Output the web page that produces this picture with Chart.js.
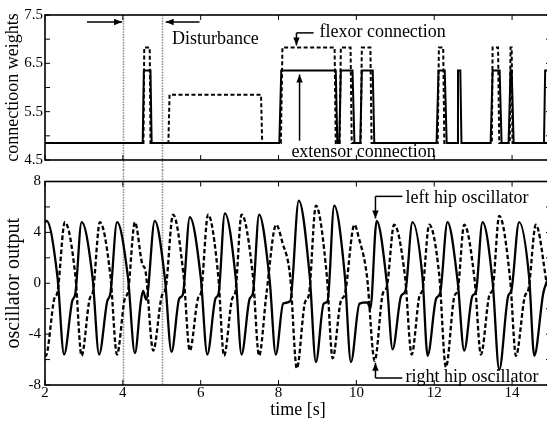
<!DOCTYPE html>
<html><head><meta charset="utf-8">
<script src="https://cdn.jsdelivr.net/npm/chart.js@4.4.1/dist/chart.umd.min.js"></script>
<style>
html,body{margin:0;padding:0;background:#fff;overflow:hidden;width:547px;height:421px;}
#top{position:absolute;left:0;top:0;width:560px;height:170px;}
#bot{position:absolute;left:0;top:170px;width:560px;height:251px;}
</style></head><body>
<div id="top"><canvas id="c1"></canvas></div>
<div id="bot"><canvas id="c2"></canvas></div>
<script>
// ---------- data: top panel (connection weights) ----------
const extT = [2,4.51,4.54,4.71,4.74,8.02,8.07,9.47,9.51,9.56,9.60,9.90,9.95,10.10,10.14,10.42,10.46,12.06,12.11,12.27,12.32,12.59,12.61,12.67,12.70,13.45,13.50,13.68,13.73,13.91,13.96,13.99,14.04,14.82,14.85,15];
const extW = [4.85,4.85,6.35,6.35,4.85,4.85,6.35,6.35,4.85,4.85,6.35,6.35,4.85,4.85,6.35,6.35,4.85,4.85,6.35,6.35,4.85,4.85,6.35,6.35,4.85,4.85,6.35,6.35,4.85,4.85,6.35,6.35,4.85,4.85,6.35,6.35];
const flxT = [2,4.53,4.55,4.69,4.71,5.17,5.20,7.55,7.58,8.06,8.10,9.44,9.47,9.57,9.60,9.85,9.88,10.11,10.14,10.36,10.39,12.09,12.12,12.23,12.26,13.48,13.50,13.64,13.67,13.94,13.96,13.99,14.01,15];
const flxW = [4.85,4.85,6.83,6.83,4.85,4.85,5.85,5.85,4.85,4.85,6.83,6.83,4.85,4.85,6.83,6.83,4.85,4.85,6.83,6.83,4.85,4.85,6.83,6.83,4.85,4.85,6.83,6.83,4.85,4.85,6.83,6.83,4.85,4.85];

// ---------- data: bottom panel (oscillator output) ----------
const leftT = [2.00,2.04,2.32,2.49,2.70,2.78,2.94,3.22,3.39,3.60,3.68,3.85,4.13,4.31,4.46,4.52,4.60,4.82,5.08,5.25,5.45,5.54,5.72,6.00,6.17,6.38,6.46,6.62,6.90,7.05,7.26,7.34,7.50,7.77,7.93,8.12,8.30,8.52,8.80,8.96,9.16,9.26,9.43,9.70,9.86,10.08,10.28,10.36,10.52,10.78,10.93,11.15,11.26,11.44,11.70,11.83,12.05,12.15,12.34,12.60,12.77,12.98,13.07,13.24,13.50,13.67,13.90,13.98,14.18,14.44,14.57,14.80,14.90];
const leftV = [4.8,4.9,0.5,-5.6,-1.4,-0.8,4.8,0.5,-5.6,-1.4,-0.8,4.8,0.5,-5.5,-1.5,-0.6,-1.3,4.9,0.4,-5.4,-1.2,-0.9,5.2,0.5,-5.6,-1.2,-0.8,5.5,0.4,-5.6,-1.2,-0.8,5.4,0.3,-5.6,-1.6,-1.4,6.5,0.6,-6.2,-1.6,-1.4,6.1,0.7,-6.2,-1.6,-1.5,-2.0,4.9,0.1,-5.2,-1.0,-0.6,4.8,0.4,-5.7,-1.2,-0.8,4.8,0.2,-5.3,-1.0,-0.7,4.8,0.1,-6.8,-1.0,-0.6,4.8,0.4,-5.7,-0.8,0.2];
const rightT = [2.00,2.02,2.24,2.32,2.51,2.78,2.94,3.15,3.23,3.41,3.68,3.85,4.05,4.13,4.31,4.50,4.58,4.78,5.00,5.10,5.29,5.56,5.72,5.93,6.01,6.19,6.45,6.60,6.81,6.89,7.05,7.34,7.50,7.69,7.94,8.10,8.30,8.47,8.68,8.78,8.96,9.24,9.39,9.60,9.70,9.95,10.06,10.27,10.47,10.68,10.78,10.97,11.25,11.42,11.62,11.70,11.87,12.13,12.30,12.52,12.60,12.77,13.04,13.20,13.42,13.50,13.67,13.95,14.10,14.33,14.42,14.61,14.90];
const rightV = [-5.6,-5.7,-1.2,-0.7,4.8,0.6,-5.7,-1.2,-0.7,4.8,0.6,-5.6,-1.2,-0.7,4.8,1.5,1.0,-5.3,-1.0,-0.4,5.4,0.6,-5.3,-1.2,-0.7,5.4,0.6,-5.7,-1.2,-0.7,5.4,0.6,-5.7,-0.8,4.6,3.2,0.5,-6.7,-1.5,-0.9,6.1,0.6,-5.9,-1.4,-0.9,4.6,3.6,0.6,-6.1,-0.8,-0.3,4.6,0.5,-5.6,-1.0,-0.5,4.6,0.6,-6.6,-1.0,-0.6,4.6,0.2,-5.6,-0.9,-0.5,5.3,0.3,-5.7,-1.0,-0.5,4.6,-0.2];

// ---------- tick values ----------
const timeRange = [2, 15];
const timeTickStep = 2;
const weightRange = [4.5, 7.5];
const weightTickStep = 0.5;
const outputRange = [-8, 8];
const outputTickStep = 2;
const disturbanceTimes = [4, 5];

const FONT = "'Liberation Serif','Times New Roman',serif";
const pts = (t, v) => t.map((x, i) => ({x, y: v[i]}));

function arrow(ctx, x1, y1, x2, y2, len = 8, w = 3.2) {
  ctx.beginPath(); ctx.moveTo(x1, y1); ctx.lineTo(x2, y2); ctx.stroke();
  const a = Math.atan2(y2 - y1, x2 - x1);
  ctx.beginPath();
  ctx.moveTo(x2, y2);
  ctx.lineTo(x2 - len * Math.cos(a) + w * Math.sin(a), y2 - len * Math.sin(a) - w * Math.cos(a));
  ctx.lineTo(x2 - len * Math.cos(a) - w * Math.sin(a), y2 - len * Math.sin(a) + w * Math.cos(a));
  ctx.closePath(); ctx.fill();
}

const framePlugin = {
  id: 'frame',
  afterDraw(chart) {
    const {ctx, chartArea: a, scales} = chart;
    ctx.save();
    ctx.strokeStyle = '#000';
    ctx.lineWidth = 1.6;
    ctx.strokeRect(a.left, a.top, a.right - a.left, a.bottom - a.top);
    ctx.lineWidth = 1;
    const L = 5;
    ctx.beginPath();
    scales.y.ticks.forEach(t => {
      const y = scales.y.getPixelForValue(t.value);
      ctx.moveTo(a.left, y); ctx.lineTo(a.left + L, y);
      ctx.moveTo(a.right, y); ctx.lineTo(a.right - L, y);
    });
    scales.x.ticks.forEach(t => {
      const x = scales.x.getPixelForValue(t.value);
      ctx.moveTo(x, a.top); ctx.lineTo(x, a.top + L);
      ctx.moveTo(x, a.bottom); ctx.lineTo(x, a.bottom - L);
    });
    ctx.stroke();
    ctx.restore();
  }
};

function disturbancePlugin(fromTop, toBottom) {
  return {
    id: 'disturb',
    beforeDatasetsDraw(chart) {
      const {ctx, chartArea: a, scales} = chart;
      ctx.save();
      ctx.strokeStyle = '#8c8c8c';
      ctx.lineWidth = 1.6;
      ctx.setLineDash([1.5, 1.2]);
      disturbanceTimes.forEach(t => {
        const x = Math.round(scales.x.getPixelForValue(t)) + 0.5;
        ctx.beginPath();
        ctx.moveTo(x, fromTop ? a.top : 0);
        ctx.lineTo(x, toBottom ? chart.height : a.bottom);
        ctx.stroke();
      });
      ctx.restore();
    }
  };
}

const topNotes = {
  id: 'topNotes',
  afterDraw(chart) {
    const {ctx, scales: {x, y}} = chart;
    const px = v => x.getPixelForValue(v), py = v => y.getPixelForValue(v);
    ctx.save();
    ctx.fillStyle = '#000'; ctx.strokeStyle = '#000'; ctx.lineWidth = 1.5;
    ctx.font = '18px ' + FONT; ctx.textBaseline = 'middle'; ctx.textAlign = 'left';
    ctx.fillText('Disturbance', px(5.26), py(7.0));
    arrow(ctx, px(3.08), py(7.355), px(3.98), py(7.355));
    arrow(ctx, px(5.97), py(7.355), px(5.10), py(7.355));
    ctx.fillText('flexor connection', px(9.05), py(7.14));
    ctx.beginPath(); ctx.moveTo(px(8.9), py(7.13)); ctx.lineTo(px(8.46), py(7.13)); ctx.stroke();
    arrow(ctx, px(8.46), py(7.13), px(8.46), py(6.87));
    ctx.fillText('extensor connection', px(8.33), py(4.66));
    arrow(ctx, px(8.54), py(4.9), px(8.54), py(6.27));
    ctx.restore();
  }
};

const botNotes = {
  id: 'botNotes',
  afterDraw(chart) {
    const {ctx, scales: {x, y}} = chart;
    const px = v => x.getPixelForValue(v), py = v => y.getPixelForValue(v);
    ctx.save();
    ctx.fillStyle = '#000'; ctx.strokeStyle = '#000'; ctx.lineWidth = 1.5;
    ctx.font = '18px ' + FONT; ctx.textBaseline = 'middle'; ctx.textAlign = 'left';
    ctx.fillText('left hip oscillator', px(11.26), py(6.71));
    ctx.beginPath(); ctx.moveTo(px(11.18), py(6.83)); ctx.lineTo(px(10.49), py(6.83)); ctx.stroke();
    arrow(ctx, px(10.49), py(6.83), px(10.49), py(5.1));
    ctx.fillText('right hip oscillator', px(11.26), py(-7.375));
    ctx.beginPath(); ctx.moveTo(px(11.18), py(-7.45)); ctx.lineTo(px(10.49), py(-7.45)); ctx.stroke();
    arrow(ctx, px(10.49), py(-7.45), px(10.49), py(-6.25));
    ctx.restore();
  }
};

const common = {
  animation: false, responsive: true, maintainAspectRatio: false, devicePixelRatio: 1,
  plugins: {legend: {display: false}, tooltip: {enabled: false}},
  elements: {point: {radius: 0}}
};

const tickFont = {family: FONT, size: 15, lineHeight: 1};

new Chart(document.getElementById('c1'), {
  type: 'line',
  data: {datasets: [
    {label: 'extensor connection', data: pts(extT, extW), borderColor: '#000', borderWidth: 2, tension: 0, fill: false},
    {label: 'flexor connection', data: pts(flxT, flxW), borderColor: '#000', borderWidth: 2, borderDash: [4, 2.5], tension: 0, fill: false}
  ]},
  options: Object.assign({}, common, {
    layout: {padding: {left: 0, right: 9, top: 15, bottom: 10}},
    scales: {
      x: {type: 'linear', min: timeRange[0], max: timeRange[1],
          grid: {display: false, drawTicks: false}, border: {display: false},
          ticks: {display: false, stepSize: timeTickStep, includeBounds: false},
          afterFit: s => { s.height = 0; }},
      y: {min: weightRange[0], max: weightRange[1],
          grid: {display: false, drawTicks: false}, border: {display: false},
          afterFit: s => { s.width = 45; },
          ticks: {stepSize: weightTickStep, autoSkip: false, padding: 2, color: '#000', font: tickFont,
                  callback: v => (Math.abs(((v - 4.5) % 1)) < 1e-6 ? v.toFixed(1) : '')},
          title: {display: true, text: 'connectioon weights', color: '#000',
                  font: {family: FONT, size: 18}, padding: {top: 2, bottom: 0}}}
    }
  }),
  plugins: [disturbancePlugin(true, true), framePlugin, topNotes]
});

new Chart(document.getElementById('c2'), {
  type: 'line',
  data: {datasets: [
    {label: 'left hip oscillator', data: pts(leftT, leftV), borderColor: '#000', borderWidth: 2.3, cubicInterpolationMode: 'monotone', fill: false},
    {label: 'right hip oscillator', data: pts(rightT, rightV), borderColor: '#000', borderWidth: 2.3, borderDash: [4.5, 2.5], cubicInterpolationMode: 'monotone', fill: false}
  ]},
  options: Object.assign({}, common, {
    layout: {padding: {left: 0, right: 9, top: 10, bottom: 0}},
    scales: {
      x: {type: 'linear', min: timeRange[0], max: timeRange[1],
          grid: {display: false, drawTicks: false}, border: {display: false},
          afterFit: s => { s.height = 36; },
          ticks: {stepSize: timeTickStep, includeBounds: false, autoSkip: false, padding: 1, maxRotation: 0,
                  color: '#000', font: tickFont},
          title: {display: true, text: 'time [s]', color: '#000', font: {family: FONT, size: 18}, padding: {top: 0, bottom: 0}}},
      y: {min: outputRange[0], max: outputRange[1],
          grid: {display: false, drawTicks: false}, border: {display: false},
          afterFit: s => { s.width = 45; },
          ticks: {stepSize: outputTickStep, autoSkip: false, padding: 4, color: '#000', font: tickFont,
                  callback: v => (v % 4 === 0 ? String(v) : '')},
          title: {display: true, text: 'oscillator output', color: '#000',
                  font: {family: FONT, size: 20}, padding: {top: 2, bottom: 0}}}
    }
  }),
  plugins: [disturbancePlugin(false, false), framePlugin, botNotes]
});
</script>
</body></html>
